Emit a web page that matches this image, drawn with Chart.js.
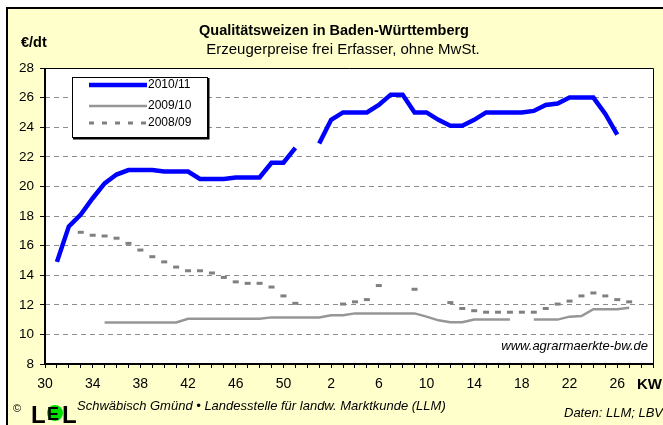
<!DOCTYPE html>
<html>
<head>
<meta charset="utf-8"/>
<script src="https://cdn.jsdelivr.net/npm/chart.js"></script>
<style>
  html, body { margin: 0; padding: 0; background: #fff; }
</style>
</head>
<body>
<canvas id="myChart" width="663" height="425"></canvas>

<script>
// calendar weeks on the x axis: 30..52, then 1..29
const weeks = [30,31,32,33,34,35,36,37,38,39,40,41,42,43,44,45,46,47,48,49,50,51,52,
               1,2,3,4,5,6,7,8,9,10,11,12,13,14,15,16,17,18,19,20,21,22,23,24,25,26,27,28,29];

// €/dt, one value per week (null = no quote)
const price2010_11 = [null,14.9,17.3,18.1,19.2,20.2,20.8,21.1,21.1,21.1,21.0,21.0,21.0,20.5,20.5,20.5,20.6,20.6,20.6,21.6,21.6,22.6,null,
                      22.9,24.5,25.0,25.0,25.0,25.5,26.2,26.2,25.0,25.0,24.5,24.1,24.1,24.5,25.0,25.0,25.0,25.0,25.1,25.5,25.6,26.0,26.0,26.0,24.9,23.5,null,null,null];
const price2009_10 = [null,null,null,null,null,10.8,10.8,10.8,10.8,10.8,10.8,10.8,11.05,11.05,11.05,11.05,11.05,11.05,11.05,11.15,11.15,11.15,11.15,
                      11.15,11.3,11.3,11.42,11.42,11.42,11.42,11.42,11.42,11.2,10.95,10.82,10.82,11.0,11.0,11.0,11.0,null,11.0,11.0,11.0,11.2,11.24,11.7,11.7,11.7,11.8,null,null];
const price2008_09 = [null,null,null,16.9,16.7,16.65,16.5,16.15,15.7,15.25,14.9,14.55,14.3,14.3,14.15,13.85,13.55,13.45,13.45,13.2,12.6,12.1,null,
                      null,null,12.05,12.2,12.35,13.3,null,null,13.05,null,null,12.15,11.75,11.6,11.5,11.5,11.5,11.5,11.5,11.75,12.05,12.25,12.6,12.8,12.6,12.35,12.2,null,null];

const seriesNames = ["2010/11", "2009/10", "2008/09"];
const yMin = 8, yMax = 28, yStep = 2;

const FONT = "'Liberation Sans', Arial, sans-serif";

// ----------------------------
// frame, texts, legend (Excel look)
const excelFrame = {
  id: "excelFrame",
  beforeDraw(chart) {
    const c = chart.ctx;
    const a = chart.chartArea;
    c.save();
    c.fillStyle = "#ffffff";
    c.fillRect(0, 0, chart.width, chart.height);
    c.fillStyle = "#ffffcc";
    c.fillRect(7, 8, chart.width - 7, chart.height - 8);
    c.strokeStyle = "#000";
    c.lineWidth = 2;
    c.beginPath();
    c.moveTo(7, chart.height);
    c.lineTo(7, 8);
    c.lineTo(chart.width, 8);
    c.stroke();
    c.fillStyle = "#ffffff";
    c.fillRect(a.left, a.top, a.right - a.left, a.bottom - a.top);
    c.restore();
  },
  afterDraw(chart) {
    const c = chart.ctx;
    const a = chart.chartArea;
    c.save();

    // plot frame
    c.strokeStyle = "#000";
    c.lineWidth = 1;
    c.beginPath();
    c.moveTo(a.left, a.top + 0.5);
    c.lineTo(a.right + 0.5, a.top + 0.5);
    c.lineTo(a.right + 0.5, a.bottom);
    c.stroke();
    c.lineWidth = 2;
    c.beginPath();
    c.moveTo(a.left, a.top);
    c.lineTo(a.left, a.bottom);
    c.lineTo(a.right + 1, a.bottom);
    c.stroke();

    // titles
    c.fillStyle = "#000";
    c.textBaseline = "middle";
    c.textAlign = "center";
    c.font = "bold 14.5px " + FONT;
    c.fillText("Qualitätsweizen in Baden-Württemberg", 334, 31);
    c.font = "15px " + FONT;
    c.fillText("Erzeugerpreise frei Erfasser, ohne MwSt.", 343, 50);
    c.textAlign = "left";
    c.font = "bold 14.5px " + FONT;
    c.fillText("€/dt", 21, 43);
    c.font = "bold 15px " + FONT;
    c.fillText("KW", 637, 385);

    // source
    c.textAlign = "right";
    c.font = "italic 13px " + FONT;
    c.fillText("www.agrarmaerkte-bw.de", 648, 346);
    c.fillText("Daten: LLM; LBV", 663, 413);
    c.textAlign = "left";
    c.fillText("Schwäbisch Gmünd • Landesstelle für landw. Marktkunde (LLM)", 77, 406);
    c.font = "11px " + FONT;
    c.fillText("©", 13, 409);

    // LEL logo
    c.fillStyle = "#00dd00";
    c.beginPath();
    c.arc(55, 413, 8, 0, Math.PI * 2);
    c.fill();
    c.fillStyle = "#000";
    c.font = "bold 24px " + FONT;
    c.textBaseline = "alphabetic";
    c.fillText("L", 31, 423);
    c.fillText("L", 62, 423);
    c.font = "bold 18px " + FONT;
    c.fillText("E", 47, 420);

    // legend
    const lx = 72, ly = 77, lw = 135, lh = 60;
    c.fillStyle = "#fff";
    c.fillRect(lx, ly, lw, lh);
    c.strokeStyle = "#000";
    c.lineWidth = 1;
    c.strokeRect(lx + 0.5, ly + 0.5, lw, lh);
    c.lineWidth = 2;
    c.beginPath();
    c.moveTo(lx + 1, ly + lh + 1.5);
    c.lineTo(lx + lw + 1.5, ly + lh + 1.5);
    c.lineTo(lx + lw + 1.5, ly + 1);
    c.stroke();

    const ds = chart.data.datasets;
    const rows = [85, 106, 123];
    c.lineCap = "butt";
    for (let i = 0; i < 3; i++) {
      c.beginPath();
      if (i === 2) {
        c.setLineDash([5, 8]);
        c.strokeStyle = ds[i].pointBorderColor;
        c.lineWidth = 3;
      } else {
        c.setLineDash([]);
        c.strokeStyle = ds[i].borderColor;
        c.lineWidth = ds[i].borderWidth;
      }
      c.moveTo(89, rows[i]);
      c.lineTo(147, rows[i]);
      c.stroke();
      c.setLineDash([]);
      c.fillStyle = "#000";
      c.font = "12px " + FONT;
      c.textBaseline = "middle";
      c.fillText(seriesNames[i], 148, rows[i]);
    }
    c.restore();
  }
};

const ctx = document.getElementById("myChart").getContext("2d");

const config = {
  type: "line",
  data: {
    labels: weeks,
    datasets: [
      {
        label: seriesNames[0],
        data: price2010_11,
        borderColor: "#0000ff",
        borderWidth: 4.5,
        pointRadius: 0,
        spanGaps: false,
        tension: 0
      },
      {
        label: seriesNames[1],
        data: price2009_10,
        borderColor: "#969696",
        borderWidth: 2.5,
        pointRadius: 0,
        spanGaps: false,
        tension: 0
      },
      {
        label: seriesNames[2],
        data: price2008_09,
        showLine: false,
        pointStyle: "line",
        pointRadius: 3,
        pointBorderWidth: 3,
        pointBorderColor: "#808080",
        pointBackgroundColor: "#808080"
      }
    ]
  },
  options: {
    responsive: false,
    animation: false,
    devicePixelRatio: 1,
    layout: { padding: { left: 0, top: 68, right: 10, bottom: 0 } },
    plugins: {
      legend: { display: false },
      tooltip: { enabled: false }
    },
    scales: {
      x: {
        type: "category",
        offset: false,
        afterFit: (s) => { s.height = 61; },
        border: { display: false },
        grid: {
          drawOnChartArea: false,
          drawTicks: true,
          tickLength: 4,
          tickColor: "#000",
          tickWidth: 1
        },
        ticks: {
          autoSkip: false,
          maxRotation: 0,
          minRotation: 0,
          padding: 8,
          color: "#000",
          font: { family: FONT, size: 14 },
          callback: (v, i) => (i % 4 === 0 && i <= 48) ? weeks[i] : ""
        }
      },
      y: {
        min: yMin,
        max: yMax,
        afterFit: (s) => { s.width = 45; },
        border: { display: false, dash: [5, 4] },
        grid: {
          color: (c) => (c.tick && (c.tick.value === yMin || c.tick.value === yMax)) ? "rgba(0,0,0,0)" : "#8c8c8c",
          lineWidth: 1,
          tickLength: 5,
          tickColor: "#000",
          tickWidth: 1
        },
        ticks: {
          stepSize: yStep,
          padding: 6,
          color: "#000",
          font: { family: FONT, size: 13.5 }
        }
      }
    }
  },
  plugins: [excelFrame]
};

new Chart(ctx, config);
</script>
</body>
</html>
